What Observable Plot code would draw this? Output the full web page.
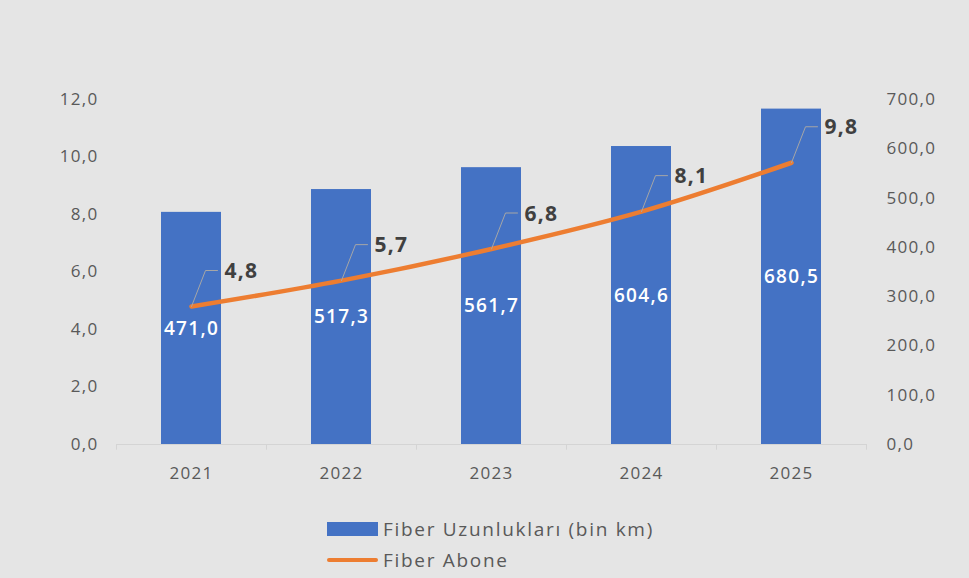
<!DOCTYPE html>
<html><head><meta charset="utf-8">
<script src="https://cdn.jsdelivr.net/npm/d3@7"></script>
<script src="https://cdn.jsdelivr.net/npm/@observablehq/plot@0.6"></script>
<style>
html,body{margin:0;padding:0;background:#e5e5e5;}
#chart{width:969px;height:578px;background:#e5e5e5;overflow:hidden;font-family:"Open Sans",sans-serif;}
#chart svg text{letter-spacing:1.3px;}
.legend{padding:8px 0 0 327px;}
.row{display:flex;align-items:center;height:31px;color:#595959;font-size:19px;letter-spacing:1.7px;}
.sw{width:51px;margin-right:5px;}
</style></head><body><div id="chart"></div>
<script>
const years = ["2021", "2022", "2023", "2024", "2025"];
const fiberLength = [471.0, 517.3, 561.7, 604.6, 680.5];      // right axis
const fiberSubscribers = [4.8, 5.7, 6.8, 8.1, 9.8];            // left axis
const leftTicks = [0, 2, 4, 6, 8, 10, 12];
const rightTicks = [0, 100, 200, 300, 400, 500, 600, 700];
const seriesNames = ["Fiber Uzunlukları (bin km)", "Fiber Abone"];

const W = 969, H = 505, mL = 116, mR = 103, mT = 99, mB = 61;
const leftMax = 12, rightMax = 700, k = leftMax / rightMax;
const pxX = (W - mL - mR) / years.length;
const pxY = (H - mT - mB) / leftMax;
const fmt = d => d.toFixed(1).replace(".", ",");
const BLUE = "#4472c4", ORANGE = "#ed7d31", GRAY = "#595959";

const data = years.map((y, i) => ({i, year: y, len: fiberLength[i], sub: fiberSubscribers[i]}));
const leaders = data.flatMap(d => [
  {i: d.i, x: d.i, y: d.sub},
  {i: d.i, x: d.i + 14 / pxX, y: d.sub + 36 / pxY},
  {i: d.i, x: d.i + 26 / pxX, y: d.sub + 36 / pxY}
]);
const bounds = d3.range(years.length + 1).map(j => j - 0.5);

const plot = Plot.plot({
  width: W, height: H,
  marginLeft: mL, marginRight: mR, marginTop: mT, marginBottom: mB,
  style: {background: "#e5e5e5", fontFamily: "'Open Sans', sans-serif", color: GRAY},
  x: {type: "linear", domain: [-0.5, years.length - 0.5], label: null},
  y: {domain: [0, leftMax], label: null},
  marks: [
    Plot.ruleY([0], {stroke: "#d4d4d4", strokeWidth: 1}),
    Plot.ruleX(bounds, {y1: 0, y2: -0.2, stroke: "#d4d4d4"}),
    Plot.rectY(data, {x1: d => d.i - 0.2, x2: d => d.i + 0.2, y1: 0, y2: d => d.len * k, fill: BLUE}),
    Plot.line(data, {x: "i", y: "sub", stroke: ORANGE, strokeWidth: 4.5, curve: "catmull-rom", strokeLinecap: "round"}),
    Plot.line(leaders, {x: "x", y: "y", z: "i", stroke: "#a6a6a6", strokeWidth: 1}),
    Plot.text(data, {x: "i", y: d => d.len * k / 2, text: d => fmt(d.len), fill: "white", fontSize: 19, fontWeight: 600}),
    Plot.text(data, {x: "i", y: "sub", text: d => fmt(d.sub), dx: 33, dy: -35, textAnchor: "start", fill: "#404040", fontSize: 21, fontWeight: 700}),
    Plot.axisY(leftTicks, {tickSize: 0, tickPadding: 18, tickFormat: fmt, fontSize: 17, fill: GRAY}),
    Plot.text(rightTicks, {y: d => d * k, text: d => fmt(d), frameAnchor: "right", dx: 20, textAnchor: "start", fontSize: 17, fill: GRAY}),
    Plot.axisX(data.map(d => d.i), {tickSize: 0, tickPadding: 22, tickFormat: i => years[i], fontSize: 17, fill: GRAY})
  ]
});

const chart = document.getElementById("chart");
chart.appendChild(plot);
const legend = document.createElement("div");
legend.className = "legend";
legend.innerHTML =
  `<div class="row"><span class="sw" style="height:14px;background:${BLUE}"></span>${seriesNames[0]}</div>` +
  `<div class="row"><span class="sw" style="height:4px;background:${ORANGE};border-radius:2px"></span>${seriesNames[1]}</div>`;
chart.appendChild(legend);
</script></body></html>
